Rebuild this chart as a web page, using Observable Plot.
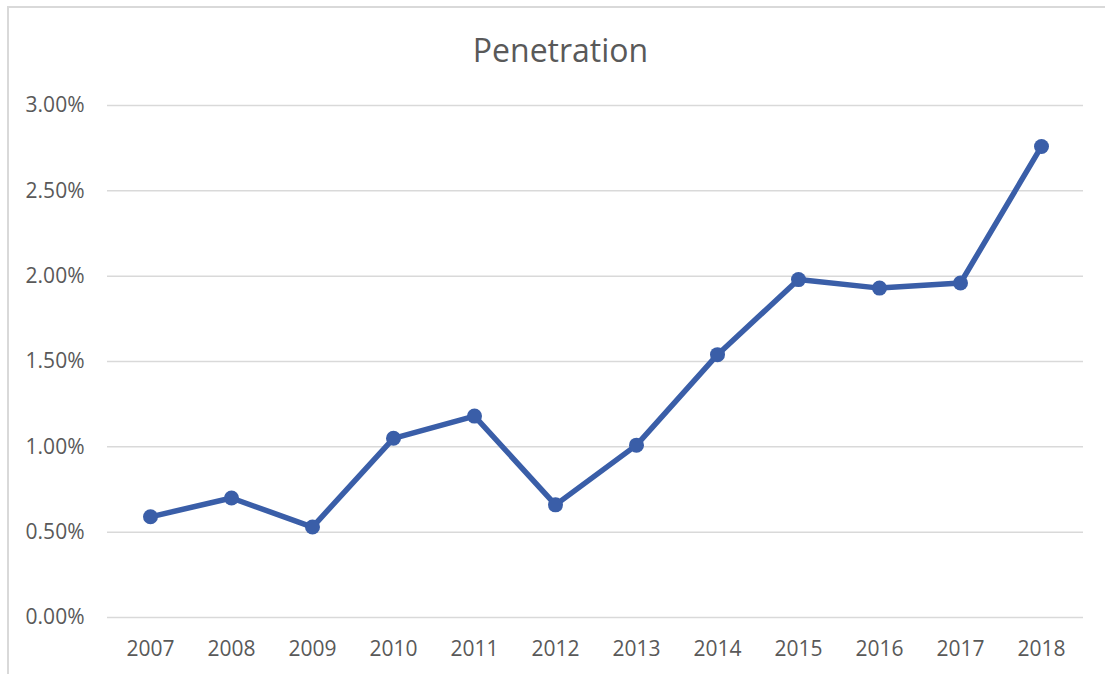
<!DOCTYPE html>
<html>
<head>
<meta charset="utf-8">
<script src="https://cdn.jsdelivr.net/npm/d3@7"></script>
<script src="https://cdn.jsdelivr.net/npm/@observablehq/plot@0.6"></script>
<style>
  html, body { margin: 0; padding: 0; background: #fff; overflow: hidden; }
  #wrap { position: relative; width: 1105px; height: 674px; overflow: hidden; font-family: "Open Sans", sans-serif; }
  #border { position: absolute; left: 7px; top: 6px; width: 1300px; height: 900px; border-left: 2px solid #d9d9d9; border-top: 2px solid #d9d9d9; box-sizing: border-box; }
  #title { position: absolute; left: 0; top: 34px; width: 1121px; text-align: center; font-size: 32px; line-height: 32px; color: #595959; }
  #chart { position: absolute; left: 0; top: 0; }
</style>
</head>
<body>
<div id="wrap">
  <div id="border"></div>
  <div id="title">Penetration</div>
  <div id="chart"></div>
</div>
<script>
const years = ["2007","2008","2009","2010","2011","2012","2013","2014","2015","2016","2017","2018"];
const penetration = [0.0059, 0.0070, 0.0053, 0.0105, 0.0118, 0.0066, 0.0101, 0.0154, 0.0198, 0.0193, 0.0196, 0.0276];
const yTicks = [0, 0.005, 0.01, 0.015, 0.02, 0.025, 0.03];

const data = years.map((year, i) => ({year, value: penetration[i]}));
const lineColor = "#3a5ea8";

const chart = Plot.plot({
  width: 1105,
  height: 674,
  marginLeft: 107,
  marginRight: 22,
  marginTop: 105,
  marginBottom: 57,
  style: { fontFamily: "Open Sans, sans-serif", fontSize: "21px", color: "#595959", background: "transparent", overflow: "visible" },
  x: { type: "point", domain: years, padding: 0.5 },
  y: { domain: [0, 0.03] },
  marks: [
    Plot.ruleY(yTicks, { stroke: "#d9d9d9", strokeWidth: 1.5 }),
    Plot.axisY(yTicks, { tickSize: 0, tickPadding: 23, tickFormat: d3.format(".2%"), label: null, fill: "#595959", fontSize: 21 }),
    Plot.axisX({ tickSize: 0, tickPadding: 24, label: null, fill: "#595959", fontSize: 21 }),
    Plot.line(data, { x: "year", y: "value", stroke: lineColor, strokeWidth: 5.5, strokeLinejoin: "round", strokeLinecap: "round" }),
    Plot.dot(data, { x: "year", y: "value", r: 7.5, fill: lineColor, stroke: "none" })
  ]
});
document.getElementById("chart").appendChild(chart);
</script>
</body>
</html>
